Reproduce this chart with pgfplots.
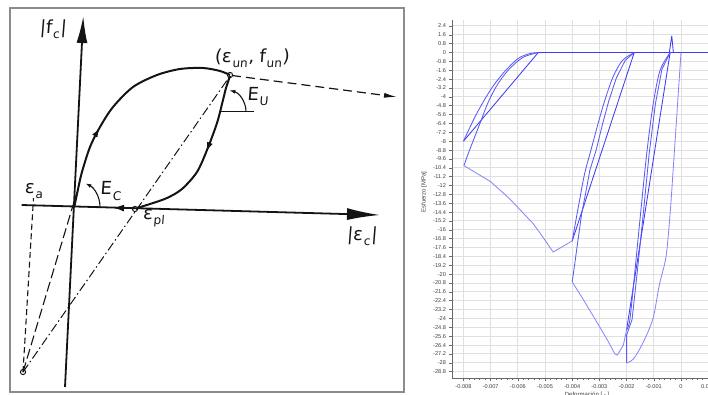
\documentclass[border=0pt]{standalone}
\usepackage{pgfplots}
\pgfplotsset{compat=1.18}
\usepackage{fontspec}
\setmainfont{Liberation Sans}
\newfontfamily\sketchfont[FakeSlant=0.08]{DejaVu Sans}
\usetikzlibrary{arrows.meta,decorations.markings}

\definecolor{ink}{RGB}{20,20,20}
\definecolor{framec}{RGB}{140,140,140}
\definecolor{curveA}{RGB}{60,60,245}
\definecolor{curveB}{RGB}{90,90,245}
\definecolor{curveC}{RGB}{135,135,250}
\definecolor{gridc}{RGB}{224,224,224}
\definecolor{spine}{RGB}{105,105,105}

\newcommand\sub[1]{\kern1pt\raisebox{-0.28em}{\fontsize{12}{12}\selectfont #1}\kern0.8pt}

\begin{document}
\begin{tikzpicture}[x=1pt,y=1pt]
\useasboundingbox (0,0) rectangle (708,394);

% ---------------- hand-drawn cyclic model sketch ----------------
\begin{axis}[at={(0pt,0pt)}, anchor=south west, scale only axis,
  width=708pt, height=394pt, xmin=0, xmax=708, ymin=0, ymax=394,
  y dir=reverse, hide axis, clip=false]

  \draw[framec, line width=1.6pt] (axis cs:10,8) rectangle (axis cs:404,392);

  % axes
  \addplot[ink, line width=1.8pt, -{Latex[length=27pt,width=11pt]}]
    coordinates {(65,387) (83.3,16)};
  \addplot[ink, line width=1.8pt, -{Latex[length=33pt,width=12pt]}]
    coordinates {(21.7,205) (380,215)};
  \addplot[ink, line width=1.5pt, -{Latex[length=11pt,width=7pt]}]
    coordinates {(127,208.2) (113,207.7)};

  % loading branch
  \addplot[ink, line width=2pt, smooth,
    postaction={decorate}, decoration={markings,
      mark=at position 0.35 with {\arrow{Latex[length=10pt,width=6pt]}}}]
    coordinates {(74.5,206) (77,194) (81.7,173) (90,147) (100,127) (113,107)
      (133,87) (157,75) (180,69) (203,68) (220,71) (230,75)};

  % unloading branch
  \addplot[ink, line width=2pt, smooth,
    postaction={decorate}, decoration={markings,
      mark=at position 0.46 with {\arrow{Latex[length=10pt,width=6pt]}}}]
    coordinates {(230,76) (226,88) (223,100) (217,123) (207,150) (197,172)
      (182,189) (167,198) (150,204) (137,208)};

  % continuation of the envelope
  \addplot[ink, line width=1.2pt, dash pattern=on 9pt off 5pt,
    -{Latex[length=13pt,width=5pt]}]
    coordinates {(232,75.5) (397,97)};

  % focal point construction
  \addplot[ink, line width=1pt, dash pattern=on 9pt off 3pt on 1.5pt off 3pt]
    coordinates {(23,372) (230,76)};
  \addplot[ink, line width=1.1pt, dash pattern=on 10pt off 4pt]
    coordinates {(23,372) (77,192)};
  \addplot[ink, line width=1.1pt, dash pattern=on 6pt off 3.5pt]
    coordinates {(23,372) (33.5,198)};

  % points
  \addplot[ink, only marks, mark=o, mark size=2.6pt, mark options={line width=1pt, fill=white}]
    coordinates {(230,75) (135,209) (23,372)};

  % stiffness angles
  \draw[ink, line width=1.1pt] (axis cs:220,111.7) -- (axis cs:254,111.7);
  \draw[ink, line width=1.1pt, -{Latex[length=6pt,width=4pt]}]
    (axis cs:246,111.7) arc[start angle=0, end angle=76, radius=22pt];
  \draw[ink, line width=1.1pt, -{Latex[length=6pt,width=4pt]}]
    (axis cs:100,206.8) arc[start angle=0, end angle=64, radius=26pt];

  % labels
  \node[ink, font=\sketchfont\fontsize{18}{18}\selectfont] at (axis cs:53,29) {|f\sub{c}|};
  \node[ink, font=\sketchfont\fontsize{18}{18}\selectfont] at (axis cs:252,58)
    {(ε\sub{un},\;f\sub{un})};
  \node[ink, font=\sketchfont\fontsize{18}{18}\selectfont] at (axis cs:258,97) {E\sub{U}};
  \node[ink, font=\sketchfont\fontsize{18}{18}\selectfont] at (axis cs:111,191) {E\sub{C}};
  \node[ink, font=\sketchfont\fontsize{18}{18}\selectfont] at (axis cs:34,191) {ε\sub{a}};
  \node[ink, font=\sketchfont\fontsize{18}{18}\selectfont] at (axis cs:154,218) {ε\sub{pl}};
  \node[ink, font=\sketchfont\fontsize{18}{18}\selectfont] at (axis cs:362,236) {|ε\sub{c}|};
\end{axis}

% ---------------- simulated stress-strain response ----------------
\begin{axis}[at={(452pt,16pt)}, anchor=south west, scale only axis,
  width=256.2pt, height=358pt,
  xmin=-0.00842, xmax=0.001, ymin=-29.37, ymax=2.94,
  axis x line*=bottom, axis y line*=left,
  axis line style={spine, line width=0.8pt},
  xtick={-0.008,-0.007,-0.006,-0.005,-0.004,-0.003,-0.002,-0.001,0,0.001},
  xticklabels={-0.008,-0.007,-0.006,-0.005,-0.004,-0.003,-0.002,-0.001,0,0.001},
  minor x tick num=4,
  ytick={2.4,1.6,0.8,0,-0.8,-1.6,-2.4,-3.2,-4,-4.8,-5.6,-6.4,-7.2,-8,-8.8,-9.6,
    -10.4,-11.2,-12,-12.8,-13.6,-14.4,-15.2,-16,-16.8,-17.6,-18.4,-19.2,-20,
    -20.8,-21.6,-22.4,-23.2,-24,-24.8,-25.6,-26.4,-27.2,-28,-28.8},
  yticklabels={2.4,1.6,0.8,0,-0.8,-1.6,-2.4,-3.2,-4,-4.8,-5.6,-6.4,-7.2,-8,-8.8,-9.6,
    -10.4,-11.2,-12,-12.8,-13.6,-14.4,-15.2,-16,-16.8,-17.6,-18.4,-19.2,-20,
    -20.8,-21.6,-22.4,-23.2,-24,-24.8,-25.6,-26.4,-27.2,-28,-28.8},
  scaled x ticks=false, scaled y ticks=false,
  grid=major, major grid style={gridc, line width=1pt},
  tick align=outside, major tick length=3pt, minor tick length=2pt,
  tick style={spine, line width=0.6pt},
  yticklabel style={font=\fontsize{5.6}{6}\selectfont, text=black!75, xshift=0.5pt},
  xticklabel style={font=\fontsize{5.6}{6}\selectfont, text=black!75},
  /pgf/number format/assume math mode=true,
  every axis plot/.append style={line width=0.85pt, line join=round}]

  % zero-stress branch (open cracks)
  \addplot[curveA] coordinates {(-0.00525,0) (0.001,0)};
  % tension spike
  \addplot[curveA] coordinates {(-0.00043,0) (-0.00034,1.5) (-0.00028,0)};

  % first cycle
  \addplot[curveA] coordinates {(-0.008,-8.0) (-0.00525,0)};
  \addplot[curveB, smooth] coordinates {(-0.00525,0) (-0.0056,-0.12) (-0.0060,-0.55)
    (-0.0065,-1.75) (-0.0070,-3.35) (-0.0075,-5.45) (-0.0078,-6.95) (-0.0080,-8.0)};
  \addplot[curveB, smooth] coordinates {(-0.00525,0) (-0.0058,-0.42) (-0.00629,-1.42)
    (-0.00672,-2.77) (-0.00708,-4.43) (-0.00739,-6.38) (-0.00763,-7.89)
    (-0.00782,-9.09) (-0.00798,-10.2)};
  \addplot[curveC] coordinates {(-0.00798,-10.2) (-0.0070,-11.65) (-0.0063,-13.2)
    (-0.00545,-15.4) (-0.00518,-16.3) (-0.0047,-18.0) (-0.0040,-17.0)};

  % second cycle
  \addplot[curveA] coordinates {(-0.0040,-17.0) (-0.00172,0)};
  \addplot[curveB, smooth] coordinates {(-0.00172,0) (-0.00215,-0.7) (-0.00250,-2.2)
    (-0.00280,-4.3) (-0.00305,-6.4) (-0.00330,-8.7) (-0.00355,-11.0)
    (-0.00378,-14.0) (-0.0040,-17.0)};
  \addplot[curveB] coordinates {(-0.00172,0) (-0.00205,-0.7) (-0.00238,-2.3)
    (-0.00266,-4.4) (-0.00290,-6.6) (-0.00312,-8.8) (-0.00335,-10.6)
    (-0.00350,-12.6) (-0.00365,-14.5) (-0.0040,-20.7)};
  \addplot[curveC] coordinates {(-0.0040,-20.7) (-0.00359,-22.3) (-0.0031,-24.3)
    (-0.00267,-26.1) (-0.00243,-27.2) (-0.00234,-27.3) (-0.00212,-26.4) (-0.0020,-25.0)};

  % third cycle
  \addplot[curveA] coordinates {(-0.0020,-25.0) (-0.0004,0)};
  \addplot[curveB, smooth] coordinates {(-0.0004,0) (-0.00077,-1.6) (-0.00102,-4.6)
    (-0.00126,-9.1) (-0.00151,-15.1) (-0.00169,-19.6) (-0.00188,-24.1) (-0.0020,-25.0)};
  \addplot[curveB] coordinates {(-0.0004,0) (-0.00070,-1.5) (-0.00094,-4.6)
    (-0.00117,-9.1) (-0.00141,-15.1) (-0.00160,-19.6) (-0.00180,-24.1)
    (-0.0020,-25.5) (-0.0020,-28.0)};
  \addplot[curveC, smooth] coordinates {(-0.0020,-28.0) (-0.00193,-27.95) (-0.00173,-27.6)
    (-0.0014,-26.2) (-0.00103,-24.0) (-0.0008,-21.0) (-0.00055,-18.4)
    (-0.0004,-14.5) (-0.0003,-11.0) (-0.00015,-5.5) (0,0)};
\end{axis}

\node[rotate=90, font=\fontsize{6}{7}\selectfont, text=black!75] at (424pt,202pt) {Esfuerzo [MPa]};
\node[anchor=north, font=\fontsize{6}{7}\selectfont, text=black!75] at (587pt,5pt) {Deformación [ - ]};
\end{tikzpicture}
\end{document}
